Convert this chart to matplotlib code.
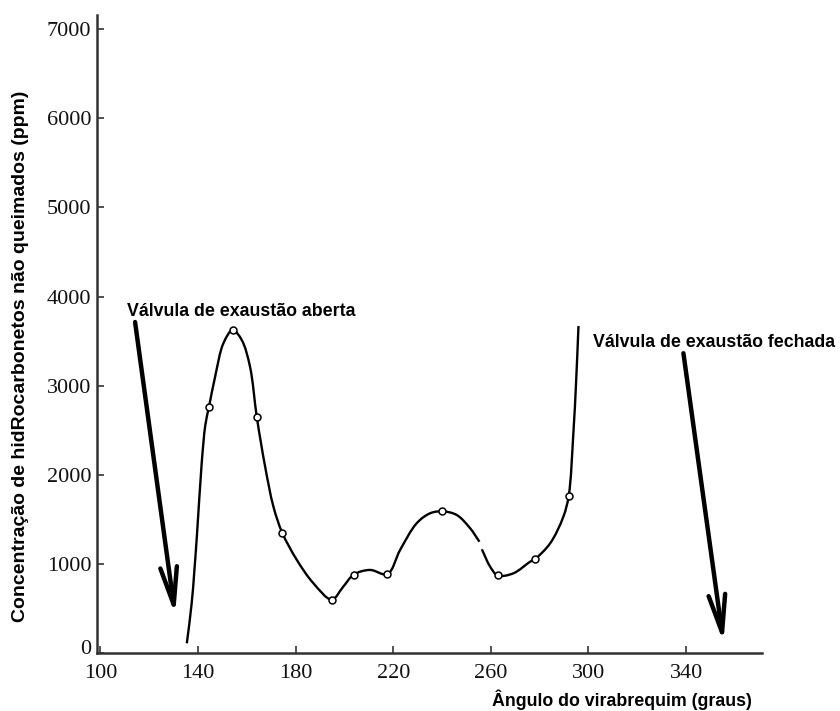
import numpy as np
import matplotlib
matplotlib.use("Agg")
import matplotlib.pyplot as plt
import matplotlib.transforms as mtransforms
from matplotlib.path import Path
from matplotlib.patches import PathPatch

# ---- data ----
# measured points (open circles)
marker_angle = [144.5, 154.2, 164.1, 174.5, 194.8, 203.8, 217.6, 240.1, 262.8, 278.1, 291.9]
marker_hc = [2760, 3630, 2645, 1350, 600, 880, 885, 1590, 870, 1055, 1765]

# traced curve (two pieces, the printed line has a small break near 256 deg)
curve1_angle = [135.4, 137.4, 139.5, 141.5, 143.0, 144.5, 147.0, 150.4, 154.2, 157.9,
                161.3, 164.1, 167.5, 170.9, 174.5, 180.5, 187.3, 194.8, 199.5, 203.8,
                210.5, 217.6, 222.8, 229.6, 235.1, 240.1, 246.0, 251.5, 255.3]
curve1_hc = [109, 560, 1300, 2130, 2560, 2764, 3101, 3476, 3625, 3513,
             3213, 2645, 2091, 1642, 1350, 1044, 782, 600, 744, 880,
             932, 885, 1156, 1456, 1568, 1590, 1549, 1400, 1249]
curve2_angle = [256.3, 259.7, 262.8, 269.2, 276.1, 278.1, 284.3, 289.7, 291.9, 293.8, 294.9, 295.9]
curve2_hc = [1164, 969, 870, 894, 1025, 1055, 1231, 1530, 1765, 2466, 3027, 3670]

x_ticks = [100, 140, 180, 220, 260, 300, 340]
y_ticks = [0, 1000, 2000, 3000, 4000, 5000, 6000, 7000]

label_open = "Válvula de exaustão aberta"
label_closed = "Válvula de exaustão fechada"
arrow_open = ((114.2, 3714), (130.6, 430))     # (start, tip)
arrow_closed = ((338.9, 3364), (355.3, 120))

xlabel = "Ângulo do virabrequim (graus)"
ylabel = "Concentração de hidRocarbonetos não queimados (ppm)"

W, H = 840, 711
ax_l, ax_r, ax_b, ax_t = 97, 762, 653, 15
XLIM = (98.6, 371.1)
YLIM = (0, 7160)
SX = (ax_r - ax_l) / (XLIM[1] - XLIM[0])
SY = (ax_b - ax_t) / (YLIM[1] - YLIM[0])


def smooth_path(xs, ys):
    """Centripetal Catmull-Rom through the traced points, as cubic Bezier path."""
    pts = np.column_stack([xs, ys]).astype(float)
    scl = np.array([SX, SY])
    n = len(pts)

    def dist(a, b):
        return np.sqrt(np.hypot(*((a - b) * scl)))  # |.|^0.5

    verts = [pts[0]]
    codes = [Path.MOVETO]
    for i in range(n - 1):
        p1, p2 = pts[i], pts[i + 1]
        d2 = dist(p1, p2)
        if i > 0:
            p0 = pts[i - 1]
            d1 = dist(p0, p1)
            c1 = (d1**2 * p2 - d2**2 * p0 + (2 * d1**2 + 3 * d1 * d2 + d2**2) * p1) / (3 * d1 * (d1 + d2))
        else:
            c1 = p1 + (p2 - p1) / 3.0
        if i + 2 < n:
            p3 = pts[i + 2]
            d3 = dist(p2, p3)
            c2 = (d3**2 * p1 - d2**2 * p3 + (2 * d3**2 + 3 * d3 * d2 + d2**2) * p2) / (3 * d3 * (d3 + d2))
        else:
            c2 = p2 - (p2 - p1) / 3.0
        verts += [c1, c2, p2]
        codes += [Path.CURVE4] * 3
    return Path(verts, codes)


fig = plt.figure(figsize=(W / 100, H / 100), dpi=100)
ax = fig.add_axes([ax_l / W, 1 - ax_b / H, (ax_r - ax_l) / W, (ax_b - ax_t) / H])

ax.set_xlim(*XLIM)
ax.set_ylim(*YLIM)

for xs, ys in [(curve1_angle, curve1_hc), (curve2_angle, curve2_hc)]:
    ax.add_patch(PathPatch(smooth_path(xs, ys), facecolor="none",
                           edgecolor="black", lw=1.7, zorder=3))

ax.plot(marker_angle, marker_hc, "o", ms=5, mfc="white", mec="black", mew=1.1, zorder=4)

for (start, tip) in [arrow_open, arrow_closed]:
    ax.annotate("", xy=tip, xytext=start,
                arrowprops=dict(arrowstyle="->,head_length=1.35,head_width=0.3",
                                lw=3.2, color="black", shrinkA=0, shrinkB=0,
                                mutation_scale=20))

bold = dict(family="Liberation Sans", weight="bold", fontsize=12.8, color="black")
ax.text(110.8, 3837, label_open, ha="left", va="center", **bold)
ax.text(301.9, 3489, label_closed, ha="left", va="center", **bold)

for s in ["top", "right"]:
    ax.spines[s].set_visible(False)
for s in ["left", "bottom"]:
    ax.spines[s].set_color("#333333")
    ax.spines[s].set_linewidth(1.8)

ax.set_xticks(x_ticks)
ax.set_yticks(y_ticks)
ax.set_xticklabels([str(v) for v in x_ticks])
ax.set_yticklabels([str(v) for v in y_ticks])
ax.tick_params(direction="in", length=5, width=1.2, color="#333333")
ax.tick_params(axis="x", pad=8)
ax.tick_params(axis="y", pad=4)
for lab in ax.get_xticklabels() + ax.get_yticklabels():
    lab.set_fontfamily("Liberation Serif")
    lab.set_fontsize(16)
    lab.set_color("#111111")

# the "0" label sits a little above its tick in the reference
fig.canvas.draw()
zero_lab = ax.get_yticklabels()[0]
zero_lab.set_va("bottom")
zero_lab.set_transform(zero_lab.get_transform() +
                       mtransforms.ScaledTranslation(0, -4 / 72, fig.dpi_scale_trans))

ax.set_xlabel(xlabel, **bold)
ax.xaxis.label.set_va("center")
ax.xaxis.set_label_coords((622 - ax_l) / (ax_r - ax_l), (ax_b - 700) / (ax_b - ax_t))
ax.set_ylabel(ylabel, family="Liberation Sans", weight="bold", fontsize=14)
ax.yaxis.label.set_va("center")
ax.yaxis.set_label_coords((21 - ax_l) / (ax_r - ax_l), (ax_b - 356) / (ax_b - ax_t))

fig.savefig("out.png", dpi=100)
